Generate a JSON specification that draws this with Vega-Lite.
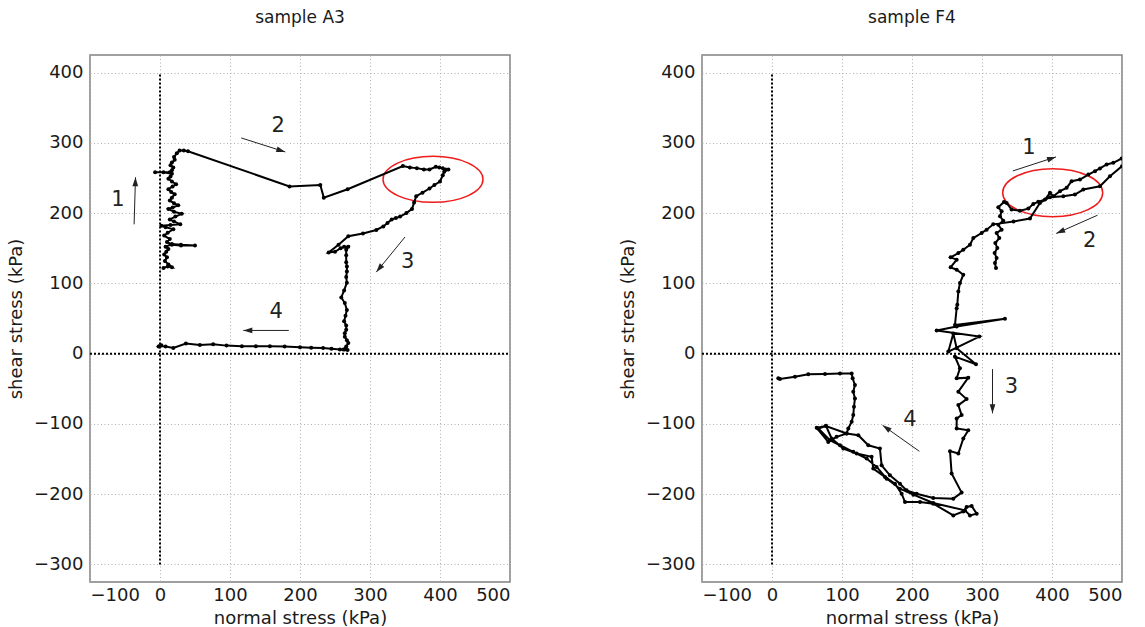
{
  "$schema": "https://vega.github.io/schema/vega-lite/v6.json",
  "padding": {"left": 6, "top": 8, "right": 5, "bottom": 0},
  "background": "white",
  "config": {
    "view": {"stroke": "#808080", "strokeWidth": 1.5},
    "font": "DejaVu Sans",
    "axis": {"gridColor": "#b0b0b0", "gridDash": [1, 2.5], "gridWidth": 1, "domain": false, "ticks": false,
      "labelFont": "DejaVu Sans", "titleFont": "DejaVu Sans", "labelFontSize": 18, "titleFontSize": 18,
      "titleFontWeight": "normal", "labelColor": "#1a1a1a", "titleColor": "#1a1a1a"},
    "axisX": {"labelPadding": 4, "titlePadding": 5},
    "axisY": {"labelPadding": 7, "titlePadding": 8},
    "title": {"font": "DejaVu Sans", "fontSize": 17, "fontWeight": "normal", "color": "#1a1a1a", "offset": 28}
  },
  "datasets": {
    "a3": [
      {"x":5,"y":122},{"x":11,"y":124},{"x":17,"y":123},{"x":12,"y":127},{"x":7,"y":132},{"x":10,"y":137},{"x":6,"y":141},{"x":9,"y":145},{"x":12,"y":149},{"x":8,"y":152},{"x":17,"y":156},{"x":30,"y":155},{"x":50,"y":154},{"x":30,"y":154},{"x":17,"y":155},{"x":10,"y":159},{"x":14,"y":163},{"x":6,"y":168},{"x":11,"y":172},{"x":19,"y":177},{"x":8,"y":180},{"x":2,"y":182},{"x":15,"y":183},{"x":29,"y":184},{"x":20,"y":188},{"x":14,"y":191},{"x":22,"y":195},{"x":31,"y":199},{"x":20,"y":202},{"x":12,"y":206},{"x":18,"y":208},{"x":26,"y":211},{"x":20,"y":214},{"x":14,"y":218},{"x":17,"y":222},{"x":21,"y":227},{"x":16,"y":230},{"x":12,"y":234},{"x":18,"y":238},{"x":23,"y":241},{"x":17,"y":245},{"x":12,"y":249},{"x":15,"y":252},{"x":17,"y":256},{"x":5,"y":258},{"x":-7,"y":258},{"x":14,"y":258},{"x":17,"y":261},{"x":19,"y":265},{"x":15,"y":268},{"x":17,"y":272},{"x":21,"y":276},{"x":20,"y":280},{"x":24,"y":285},{"x":28,"y":289},{"x":34,"y":289},{"x":40,"y":288},
      {"x":185,"y":238},{"x":229,"y":240},{"x":234,"y":222},{"x":268,"y":234},{"x":347,"y":267},{"x":357,"y":265},{"x":367,"y":264},{"x":377,"y":262},{"x":385,"y":262},{"x":394,"y":266},{"x":399,"y":265},{"x":404,"y":264},{"x":408,"y":262},{"x":412,"y":262},
      {"x":406,"y":259},{"x":404,"y":254},{"x":400,"y":245},{"x":392,"y":240},{"x":385,"y":235},{"x":375,"y":229},{"x":366,"y":224},{"x":363,"y":215},{"x":360,"y":206},{"x":352,"y":200},{"x":343,"y":195},{"x":337,"y":193},{"x":331,"y":191},{"x":325,"y":186},{"x":319,"y":181},{"x":309,"y":176},{"x":290,"y":171},{"x":269,"y":167},{"x":255,"y":155},{"x":241,"y":144},{"x":250,"y":145},{"x":258,"y":150},{"x":263,"y":152},{"x":269,"y":152},{"x":266,"y":148},{"x":266,"y":140},{"x":266,"y":130},{"x":267,"y":124},{"x":267,"y":117},{"x":266,"y":109},{"x":267,"y":101},{"x":263,"y":90},{"x":259,"y":80},{"x":264,"y":72},{"x":267,"y":62},{"x":265,"y":54},{"x":263,"y":46},{"x":266,"y":40},{"x":266,"y":34},{"x":264,"y":29},{"x":264,"y":24},{"x":267,"y":19},{"x":269,"y":15},{"x":266,"y":10},{"x":264,"y":6},{"x":268,"y":5},{"x":265,"y":7},
      {"x":262,"y":6},{"x":257,"y":6},{"x":245,"y":7},{"x":233,"y":8},{"x":216,"y":8.5},{"x":200,"y":9},{"x":178,"y":10},{"x":157,"y":10.5},{"x":137,"y":10.5},{"x":117,"y":10.5},{"x":95,"y":11.4},{"x":76,"y":13.3},{"x":57,"y":12.4},{"x":37,"y":14.3},{"x":19,"y":8},{"x":8,"y":10},{"x":-1,"y":10.5},{"x":2,"y":12},{"x":-2,"y":10}
    ],
    "f4": [
      {"x":320,"y":121.7},{"x":318.5,"y":128.9},{"x":320.9,"y":136},{"x":318,"y":143.1},{"x":321.9,"y":150.3},{"x":319,"y":157.4},{"x":324.7,"y":164.5},{"x":320.9,"y":171.7},{"x":328,"y":176.4},{"x":323.3,"y":183.5},{"x":330.4,"y":189.2},{"x":325.7,"y":195.4},{"x":328,"y":202.5},{"x":323.3,"y":208.2},{"x":331.4,"y":215.9},{"x":335.2,"y":214.5},{"x":342.3,"y":205},{"x":354.2,"y":203.5},{"x":366.2,"y":206.4},{"x":373.3,"y":213.1},{"x":380.4,"y":216},{"x":390,"y":219.3},{"x":397.1,"y":228.8},{"x":401.9,"y":224},{"x":411.4,"y":231.2},{"x":420.9,"y":235.9},{"x":428,"y":245.4},{"x":440,"y":247.8},{"x":451.9,"y":254.9},{"x":461.4,"y":259.7},{"x":468.5,"y":263.5},{"x":478,"y":269.2},{"x":487.6,"y":271.6},{"x":499.5,"y":277.7},{"x":512,"y":283},
      {"x":512,"y":272},{"x":500,"y":266.8},{"x":482.8,"y":252.5},{"x":468.5,"y":238.2},{"x":444.7,"y":233.5},{"x":432.8,"y":226.4},{"x":416.2,"y":224},{"x":397.1,"y":222.6},{"x":382.8,"y":214.5},{"x":368.5,"y":192.2},{"x":345,"y":188},{"x":316,"y":184},{"x":306.6,"y":176.4},{"x":299.5,"y":171.7},{"x":287.6,"y":164.5},{"x":282.8,"y":155},{"x":273.3,"y":147.9},{"x":266.2,"y":143.1},{"x":255.2,"y":137},{"x":263.8,"y":133.7},{"x":255.2,"y":122.8},{"x":263.8,"y":119.4},{"x":273.3,"y":112.3},{"x":268.5,"y":100.4},{"x":266.2,"y":88.5},{"x":264.7,"y":69.4},{"x":263.8,"y":64.7},{"x":261.4,"y":40.9},{"x":332.8,"y":49.5},{"x":263.8,"y":38.5},{"x":235.2,"y":32.8},{"x":296.2,"y":24.3},{"x":251.9,"y":2.9},{"x":259,"y":28.8},{"x":263.8,"y":7.6},{"x":291.4,"y":-15.2},{"x":261.4,"y":-4.3},
      {"x":268.5,"y":-20.9},{"x":263.8,"y":-35.2},{"x":280.4,"y":-34.2},{"x":266.2,"y":-54.2},{"x":278,"y":-64.7},{"x":266.2,"y":-73.2},{"x":270.9,"y":-87.5},{"x":263.8,"y":-92.2},{"x":263.8,"y":-106.5},{"x":280.4,"y":-108.9},{"x":273.3,"y":-120.8},{"x":266.2,"y":-142.2},{"x":254.3,"y":-138.8},{"x":256.6,"y":-170.7},{"x":270.9,"y":-197.8},{"x":259,"y":-206.4},{"x":230.4,"y":-205.5},{"x":206.6,"y":-199.3},{"x":192.3,"y":-194.6},{"x":182.8,"y":-185.1},{"x":168.5,"y":-173.2},{"x":156.6,"y":-158.9},{"x":154.2,"y":-135.1},{"x":137.6,"y":-130.4},{"x":123.3,"y":-116.2},{"x":106.6,"y":-113.7},{"x":92.3,"y":-118.4},{"x":80.4,"y":-125.6},{"x":63.8,"y":-105.6},{"x":77.1,"y":-102.7},{"x":85.2,"y":-120.8},{"x":101.9,"y":-135.1},{"x":120.9,"y":-142.2},{"x":142.3,"y":-146.9},{"x":144.7,"y":-163.6},{"x":161.4,"y":-175.5},{"x":175.7,"y":-185.1},{"x":185.2,"y":-199.3},{"x":190,"y":-211.2},{"x":211.4,"y":-211.2},{"x":230.4,"y":-213.5},{"x":259,"y":-230.2},{"x":273.3,"y":-224.5},{"x":278,"y":-218.3},{"x":285.2,"y":-216.8},{"x":292.4,"y":-227.8},{"x":282.8,"y":-230.2},{"x":275.7,"y":-223.1},
      {"x":230.4,"y":-212.5},{"x":201.9,"y":-200.7},{"x":182.8,"y":-192.2},{"x":163.8,"y":-177.9},{"x":149.5,"y":-161.2},{"x":135.2,"y":-149.3},{"x":116.1,"y":-139.8},{"x":97.1,"y":-130.4},{"x":82.8,"y":-123.2},{"x":66.2,"y":-106.5},{"x":77,"y":-103},{"x":106.6,"y":-113.7},{"x":109,"y":-106.5},{"x":113.8,"y":-97},{"x":116.1,"y":-87.5},{"x":117.1,"y":-75.6},{"x":118.5,"y":-63.7},{"x":116.1,"y":-54.2},{"x":118.5,"y":-44.7},{"x":115.2,"y":-35.2},{"x":113.8,"y":-28.1},{"x":97.1,"y":-28.1},{"x":75.7,"y":-29},{"x":51.9,"y":-29.5},{"x":32.8,"y":-32.8},{"x":11.4,"y":-36.1},{"x":9,"y":-35.2}
    ],
    "arrowsA": [
      {"id":1,"x":-37,"y":184,"x2":-35,"y2":251},
      {"id":2,"x":116,"y":307,"x2":179,"y2":287},
      {"id":3,"x":350,"y":166,"x2":309,"y2":116},
      {"id":4,"x":184,"y":33,"x2":119,"y2":33}
    ],
    "arrowsF": [
      {"id":1,"x":344,"y":260,"x2":405.7,"y2":280},
      {"id":2,"x":465,"y":197,"x2":406,"y2":171},
      {"id":3,"x":315,"y":-22,"x2":315,"y2":-85},
      {"id":4,"x":210.5,"y":-139,"x2":158,"y2":-102}
    ],
    "labelsA": [
      {"x":-60,"y":219,"t":"1"},{"x":169,"y":324,"t":"2"},{"x":354,"y":130,"t":"3"},{"x":166,"y":59,"t":"4"}
    ],
    "labelsF": [
      {"x":367,"y":292,"t":"1"},{"x":454,"y":160,"t":"2"},{"x":342,"y":-47,"t":"3"},{"x":197,"y":-95,"t":"4"}
    ],
    "ringA": [{"x":390,"y":248}],
    "ringF": [{"x":401,"y":229}],
    "zeroV": [{"x":0,"y":-300,"y2":400}],
    "zeroH": [{"x":-100,"x2":500,"y":0}]
  },
  "spacing": 106,
  "hconcat": [
    {
      "title": {"text": "sample A3"},
      "width": 420, "height": 527,
      "encoding": {
        "x": {"field":"x","type":"quantitative","title":"normal stress (kPa)","scale":{"domain":[-100,500],"nice":false,"zero":false},"axis":{"values":[-100,0,100,200,300,400,500]}},
        "y": {"field":"y","type":"quantitative","title":"shear stress (kPa)","scale":{"domain":[-325,425],"nice":false,"zero":false},"axis":{"values":[-300,-200,-100,0,100,200,300,400]}}
      },
      "layer": [
        {"data":{"name":"zeroV"},"mark":{"type":"rule","color":"black","strokeWidth":2,"strokeDash":[2,2]},"encoding":{"y2":{"field":"y2"}}},
        {"data":{"name":"zeroH"},"mark":{"type":"rule","color":"black","strokeWidth":2,"strokeDash":[2,2]},"encoding":{"x2":{"field":"x2"}}},
        {"data":{"name":"ringA"},"mark":{"type":"point","shape":"M-1,0A1,0.46,0,1,0,1,0A1,0.46,0,1,0,-1,0Z","size":10000,"filled":false,"color":"#ee1c1c","strokeWidth":1.5,"opacity":1}},
        {"data":{"name":"arrowsA"},"mark":{"type":"rule","color":"#222","strokeWidth":1}, "encoding":{"x2":{"field":"x2"},"y2":{"field":"y2"}}},
        {"data":{"name":"arrowsA"},"transform":[{"filter":"datum.id==1"}],"mark":{"type":"point","shape":"M0,0L-0.32,1L0.32,1Z","size":324,"angle":1.7,"filled":true,"color":"#222","opacity":1},"encoding":{"x":{"field":"x2","type":"quantitative"},"y":{"field":"y2","type":"quantitative"}}},
        {"data":{"name":"arrowsA"},"transform":[{"filter":"datum.id==2"}],"mark":{"type":"point","shape":"M0,0L-0.32,1L0.32,1Z","size":324,"angle":107.6,"filled":true,"color":"#222","opacity":1},"encoding":{"x":{"field":"x2","type":"quantitative"},"y":{"field":"y2","type":"quantitative"}}},
        {"data":{"name":"arrowsA"},"transform":[{"filter":"datum.id==3"}],"mark":{"type":"point","shape":"M0,0L-0.32,1L0.32,1Z","size":324,"angle":219.4,"filled":true,"color":"#222","opacity":1},"encoding":{"x":{"field":"x2","type":"quantitative"},"y":{"field":"y2","type":"quantitative"}}},
        {"data":{"name":"arrowsA"},"transform":[{"filter":"datum.id==4"}],"mark":{"type":"point","shape":"M0,0L-0.32,1L0.32,1Z","size":324,"angle":270,"filled":true,"color":"#222","opacity":1},"encoding":{"x":{"field":"x2","type":"quantitative"},"y":{"field":"y2","type":"quantitative"}}},
        {"data":{"name":"labelsA"},"mark":{"type":"text","font":"DejaVu Sans","fontSize":21,"color":"#222"},"encoding":{"text":{"field":"t"}}},
        {"data":{"name":"a3"},"mark":{"type":"line","color":"black","strokeWidth":2,"clip":true,"point":{"filled":true,"size":16,"color":"black","opacity":1}},"encoding":{"order":{"value":null}}}
      ]
    },
    {
      "title": {"text": "sample F4"},
      "width": 420, "height": 527,
      "encoding": {
        "x": {"field":"x","type":"quantitative","title":"normal stress (kPa)","scale":{"domain":[-100,500],"nice":false,"zero":false},"axis":{"values":[-100,0,100,200,300,400,500]}},
        "y": {"field":"y","type":"quantitative","title":"shear stress (kPa)","scale":{"domain":[-325,425],"nice":false,"zero":false},"axis":{"values":[-300,-200,-100,0,100,200,300,400]}}
      },
      "layer": [
        {"data":{"name":"zeroV"},"mark":{"type":"rule","color":"black","strokeWidth":2,"strokeDash":[2,2]},"encoding":{"y2":{"field":"y2"}}},
        {"data":{"name":"zeroH"},"mark":{"type":"rule","color":"black","strokeWidth":2,"strokeDash":[2,2]},"encoding":{"x2":{"field":"x2"}}},
        {"data":{"name":"ringF"},"mark":{"type":"point","shape":"M-1,0A1,0.48,0,1,0,1,0A1,0.48,0,1,0,-1,0Z","size":10000,"filled":false,"color":"#ee1c1c","strokeWidth":1.5,"opacity":1}},
        {"data":{"name":"arrowsF"},"mark":{"type":"rule","color":"#222","strokeWidth":1}, "encoding":{"x2":{"field":"x2"},"y2":{"field":"y2"}}},
        {"data":{"name":"arrowsF"},"transform":[{"filter":"datum.id==1"}],"mark":{"type":"point","shape":"M0,0L-0.32,1L0.32,1Z","size":324,"angle":72,"filled":true,"color":"#222","opacity":1},"encoding":{"x":{"field":"x2","type":"quantitative"},"y":{"field":"y2","type":"quantitative"}}},
        {"data":{"name":"arrowsF"},"transform":[{"filter":"datum.id==2"}],"mark":{"type":"point","shape":"M0,0L-0.32,1L0.32,1Z","size":324,"angle":246.2,"filled":true,"color":"#222","opacity":1},"encoding":{"x":{"field":"x2","type":"quantitative"},"y":{"field":"y2","type":"quantitative"}}},
        {"data":{"name":"arrowsF"},"transform":[{"filter":"datum.id==3"}],"mark":{"type":"point","shape":"M0,0L-0.32,1L0.32,1Z","size":324,"angle":180,"filled":true,"color":"#222","opacity":1},"encoding":{"x":{"field":"x2","type":"quantitative"},"y":{"field":"y2","type":"quantitative"}}},
        {"data":{"name":"arrowsF"},"transform":[{"filter":"datum.id==4"}],"mark":{"type":"point","shape":"M0,0L-0.32,1L0.32,1Z","size":324,"angle":305.2,"filled":true,"color":"#222","opacity":1},"encoding":{"x":{"field":"x2","type":"quantitative"},"y":{"field":"y2","type":"quantitative"}}},
        {"data":{"name":"labelsF"},"mark":{"type":"text","font":"DejaVu Sans","fontSize":21,"color":"#222"},"encoding":{"text":{"field":"t"}}},
        {"data":{"name":"f4"},"mark":{"type":"line","color":"black","strokeWidth":2,"clip":true,"point":{"filled":true,"size":16,"color":"black","opacity":1}},"encoding":{"order":{"value":null}}}
      ]
    }
  ]
}
